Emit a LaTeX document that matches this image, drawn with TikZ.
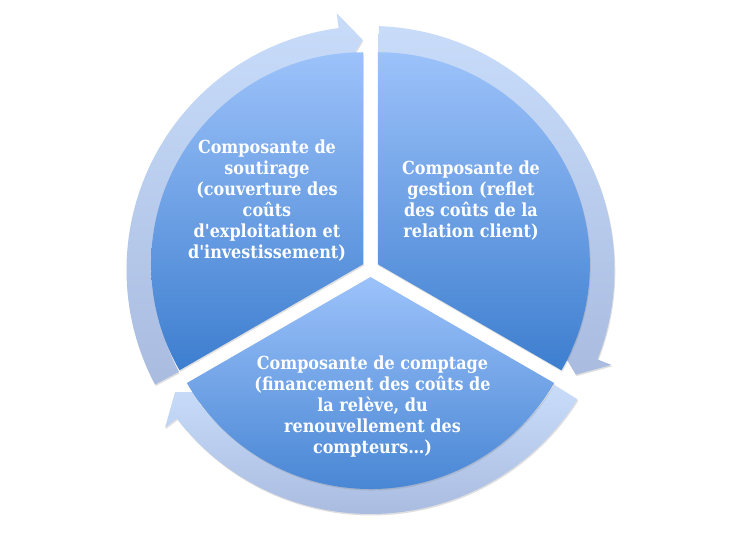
\documentclass[tikz,border=0pt]{standalone}
\usepackage{fontspec}
\newfontfamily\dfont[Ligatures=TeXOff,FakeStretch=0.89]{DejaVu Serif}
\usetikzlibrary{shadows}
\definecolor{segtop}{HTML}{9CC2FA}
\definecolor{segbot}{HTML}{3D7ECF}
\definecolor{arrtop}{HTML}{C8DCFA}
\definecolor{arrbot}{HTML}{A9BCE0}
\tikzset{
  shd/.style={drop shadow={opacity=0.25,shadow xshift=0.8pt,shadow yshift=-1.5pt}},
  seg/.style={top color=segtop,bottom color=segbot,draw=none,shd},
  ring/.style={top color=arrtop,bottom color=arrbot,draw=none,shd},
  lbl/.style={text=white,align=center,inner sep=0pt,
    font=\dfont\bfseries\fontsize{18}{21}\selectfont}
}
\newcommand\ringarrow[2]{%
  \pgfmathsetmacro\Bang{#2+5.5}%
  \path[ring] (#1:244) arc[start angle=#1,end angle=\Bang,radius=244]
    -- (\Bang:259) -- (#2:230.5) -- (\Bang:201) -- (\Bang:217)
    arc[start angle=\Bang,end angle=#1,radius=217] -- cycle;}
\begin{document}
\begin{tikzpicture}[x=1pt,y=1pt]
\useasboundingbox[fill=white] (0,0) rectangle (739,540);
\begin{scope}[shift={(370.5,270)}]
  \ringarrow{88}{-27}
  \ringarrow{-32}{-148}
  \ringarrow{208}{92}
\end{scope}
\begin{scope}[shift={(370.5,271.5)}]
  \path[seg] (150:8.5) -- ++(90:212) arc[start angle=90,end angle=210,radius=212] -- cycle;
  \path[seg] (30:8.5) -- ++(90:212) arc[start angle=90,end angle=-30,radius=212] -- cycle;
  \path[seg] (270:8.5) -- ++(210:212) arc[start angle=210,end angle=330,radius=212] -- cycle;
\end{scope}
\node[lbl] (soutirage) at (267,339.5) {Composante de\\soutirage\\(couverture des\\coûts\\d'exploitation et\\d'investissement)};
\node[lbl] (gestion) at (471,339.5) {Composante de\\gestion (reflet\\des coûts de la\\relation client)};
\node[lbl] (comptage) at (372.5,133.5) {Composante de comptage\\(financement des coûts de\\la relève, du\\renouvellement des\\compteurs…)};
\end{tikzpicture}
\end{document}
